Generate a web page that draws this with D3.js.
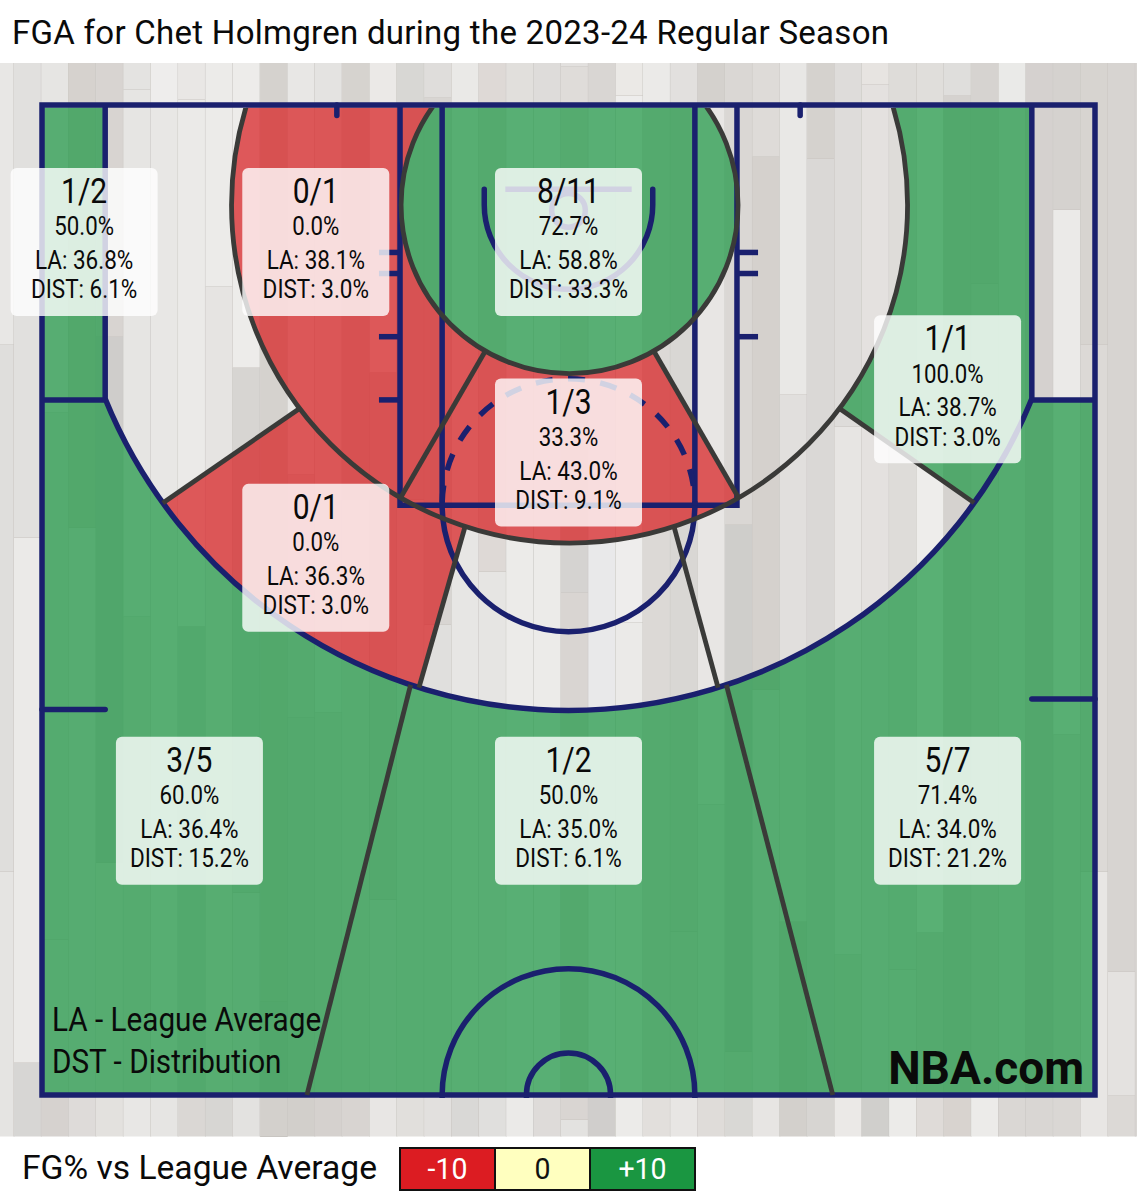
<!DOCTYPE html>
<html><head><meta charset="utf-8">
<style>html,body{margin:0;padding:0;background:#fff}svg{display:block}text{font-family:Roboto,sans-serif}</style>
<script src="https://cdnjs.cloudflare.com/ajax/libs/d3/7.8.5/d3.min.js"></script>
</head><body><div id="chart"></div>
<script>
const titleText = "FGA for Chet Holmgren during the 2023-24 Regular Season";
const noteLines = ["LA - League Average", "DST - Distribution"];
const brandText = "NBA.com";
const legendTitle = "FG% vs League Average";
const legendLabels = ["-10", "0", "+10"];
const legendColors = ["#d7191c", "#ffffbf", "#1a9641"];

// Zone read-outs
const zoneFG   = ["1/2","0/1","8/11","1/1","1/3","0/1","3/5","1/2","5/7"];
const zonePct  = ["50.0%","0.0%","72.7%","100.0%","33.3%","0.0%","60.0%","50.0%","71.4%"];
const zoneLA   = ["36.8%","38.1%","58.8%","38.7%","43.0%","36.3%","36.4%","35.0%","34.0%"];
const zoneDist = ["6.1%","3.0%","33.3%","3.0%","9.1%","3.0%","15.2%","6.1%","21.2%"];
const zoneFeetX = [2,13,25,43,25,13,7,25,43];
const zoneFeetY = [6.5,6.5,6.5,13.5,16.5,21.5,33.5,33.5,33.5];

// Hardwood: one list of tones per plank column, with the pixel row where each tone ends
const plankTones = [
["e8e7e5","dfdedc","e5e4e2"],["e1e0de","ebeae8","d7d6d4"],["e6e5e3","dedddb","e2e0de","d6d2cf"],["d6d2ce","e4e2e0","dedbd9"],
["d8d4d1","cfcdcb","e3e1de"],["e4e3e1","e6e5e3","dfdddb","e8e7e5"],["eeedec","e8e7e5","e6e5e3"],["e9e7e5","ebeae8","d8d6d4","dad7d4"],
["ecebe9","e6e4e2","d7d6d3"],["edecea","d7d5d2","e3e2e0"],["d5d2ce","d3d0cc","d9d8d6"],["e8e7e5","dcdad7","d9d7d3","d2cfcb"],
["e4e3e1","dcdad7","d5d1ce"],["d6d3cf","e0dedb","d8d4d1"],["ebe9e7","d9d7d4","e4e2e0","e8e6e4"],["d8d7d4","e1dfdc"],
["dfdddb","d8d5d2","e0dfdd","e2e0de"],["eae9e7","e7e6e4","d9d8d6"],["ded9d6","e6e5e3","e0dfdd"],["e1dfdc","ecebe9","ebeae8"],
["dedcda","ecebe9","dedbd9"],["e3e1df","dfdcd9","d5d3d1","d9d5d2","e3e2e0"],["d9d6d3","e9e9ea","d0cecc"],["ebe9e6","eeedec","ebeae8","ecebe9"],
["ebeae8","dcd9d6","e2dfdc"],["e2e0de","d9d7d4","dcdad7","e8e6e4"],["d4d1cd","e8e6e4","e2e0de","dfdcd9"],["dad7d4","cfcecb","dcdad7","d9d8d5"],
["dedbd8","d5d1cd","e4e2e0","e7e5e3"],["e8e7e5","e9e8e6","e1dfdd","d3d0cc"],["d5d2ce","dad8d6","d7d5d2"],["dedcda","e7e5e3","dcdad7","ebe9e7"],
["e7e4e1","e4e1df","d0cfcc"],["dedcd9","e2e0dd","ecebe9"],["e0dedb","eeedeb","dcdad7","dfdbd8"],["dfdedc","d5d2cf","d8d3cf"],
["d6d3d0","dcd9d6","ecebe9"],["eaeae8","e2e0de","dad7d4"],["d5d1cf","d9d6d3"],["d5d2cf","ebeae8","e0ddda","dad7d4"],
["d7d4d0","dcd9d6","e8e6e4"],["d7d4d1","e4e2e0","dcd9d6"],["d9d6d3"]];
const plankEnds = [
[345,872],[538,1063],[413,940,1096],[528,1096],
[337,863],[90,617,1096],[105,1096],[100,627,1096],
[287,1096],[368,893],[1002],[475,718,1096],
[713,1096],[500,1096],[373,900,1096],[500],
[98,625,1096],[105,1096],[572,1096],[105,1096],
[105,1096],[67,400,593,1120],[105,1096],[96,623,1096],
[105,1096],[105,932,1096],[105,805,1096],[525,1052,1096],
[157,690,1096],[105,395,922],[159,1096],[427,955,1096],
[85,1096],[970,1096],[105,933,1096],[96,1096],
[284,1096],[105,1096],[1096],[210,735,1096],
[345,872],[972,1096],[]];

// Court (feet)
const courtW = 50, courtH = 47;
const threeR = 23.75, midR = 16.05, paintR = 8;
const rayPaint = 30, rayMidInner = [18, 53], rayMidOuter = [17.4, 54.2], rayDeep = 18.4;

const W = 1137, H = 1200;
const sx = d3.scaleLinear().domain([0, courtW]).range([42, 1095]);
const sy = d3.scaleLinear().domain([0, courtH]).range([105, 1095]);
const k = sx(1) - sx(0);
const floorY = d3.scaleLinear().domain([0, H]).range([0, H]);
const plankX = d3.scaleLinear().domain([1, 2]).range([14, 41.35]);
const navy = "#1a206e", dark = "#3a3a38";
const rad = d => d * Math.PI / 180;

const svg = d3.select("#chart").append("svg").attr("width", W).attr("height", H);
const defs = svg.append("defs");
defs.append("clipPath").attr("id","court").append("rect")
  .attr("x",sx(0)).attr("y",sy(0)+2.5).attr("width",sx(courtW)-sx(0)).attr("height",sy(courtH)-sy(0));
defs.append("clipPath").attr("id","courtInner").append("rect")
  .attr("x",sx(0)).attr("y",sy(0)+3).attr("width",sx(courtW)-sx(0)).attr("height",sy(courtH)-sy(0));

// floor
const FLOOR_TOP = 63, FLOOR_BOTTOM = 1136.5;
const floor = svg.append("g");
plankTones.forEach((tones, c) => {
  const x0 = Math.max(0, plankX(c)), x1 = Math.min(W, plankX(c + 1));
  let y0 = FLOOR_TOP;
  tones.forEach((t, i) => {
    const y1 = i < plankEnds[c].length ? plankEnds[c][i] : FLOOR_BOTTOM;
    floor.append("rect").attr("x", x0).attr("y", floorY(y0)).attr("width", x1 - x0).attr("height", floorY(y1) - floorY(y0))
      .attr("fill", "#" + t);
    if (i < tones.length - 1) floor.append("line").attr("x1", x0).attr("x2", x1).attr("y1", y1).attr("y2", y1)
      .attr("stroke", "#c8c5c1").attr("stroke-width", 1);
    y0 = y1;
  });
  if (c < plankTones.length - 1) floor.append("line").attr("x1", x1).attr("x2", x1).attr("y1", FLOOR_TOP).attr("y2", FLOOR_BOTTOM)
    .attr("stroke", "#c8c5c1").attr("stroke-width", 1);
});

// zone fills
const zc = [sx(25.05), sy(4.75)], rc = [sx(25), sy(5)];
const r3 = threeR * k, rM = midR * k, rP = paintR * k;
const cornerL = 180 - Math.acos(22 / threeR) * 180 / Math.PI, cornerR = Math.acos(22 / threeR) * 180 / Math.PI;
const bad = legendColors[0], good = legendColors[2];
const fills = [];
{
  let p = d3.path(); p.arc(zc[0], zc[1], rP, 0, 2 * Math.PI); fills.push([p, good]);
  p = d3.path(); p.arc(zc[0], zc[1], rP, rad(90 - rayPaint), rad(90 + rayPaint)); p.arc(zc[0], zc[1], rM, rad(90 + rayPaint), rad(90 - rayPaint), true); p.closePath(); fills.push([p, bad]);
  p = d3.path(); p.arc(zc[0], zc[1], rP, rad(90 + rayPaint), rad(270)); p.arc(zc[0], zc[1], rM, rad(270), rad(90 + rayPaint), true); p.closePath(); fills.push([p, bad]);
  p = d3.path(); p.arc(rc[0], rc[1], r3, rad(90 + rayMidOuter[0]), rad(90 + rayMidOuter[1])); p.arc(zc[0], zc[1], rM, rad(90 + rayMidInner[1]), rad(90 + rayMidInner[0]), true); p.closePath(); fills.push([p, bad]);
  // right upper mid-range
  const a0 = -Math.asin((zc[1] - sy(0)) / rM) * 180 / Math.PI;
  p = d3.path(); p.moveTo(sx(47), sy(0)); p.lineTo(sx(47), sy(14));
  p.arc(rc[0], rc[1], r3, rad(cornerR), rad(90 - rayMidOuter[1]));
  p.arc(zc[0], zc[1], rM, rad(90 - rayMidInner[1]), rad(a0), true); p.closePath(); fills.push([p, good]);
  // corners and above the break
  p = d3.path(); p.rect(sx(0), sy(0), sx(3) - sx(0), sy(14) - sy(0)); fills.push([p, good]);
  p = d3.path(); p.moveTo(sx(0), sy(14)); p.lineTo(sx(3), sy(14));
  p.arc(rc[0], rc[1], r3, rad(cornerL), rad(90 + rayDeep), true);
  p.lineTo(sx(12.58), sy(courtH)); p.lineTo(sx(0), sy(courtH)); p.closePath(); fills.push([p, good]);
  p = d3.path(); p.arc(rc[0], rc[1], r3, rad(90 + rayDeep), rad(90 - rayDeep), true);
  p.lineTo(sx(37.55), sy(courtH)); p.lineTo(sx(12.58), sy(courtH)); p.closePath(); fills.push([p, good]);
  p = d3.path(); p.moveTo(sx(courtW), sy(14)); p.lineTo(sx(47), sy(14));
  p.arc(rc[0], rc[1], r3, rad(cornerR), rad(90 - rayDeep));
  p.lineTo(sx(37.55), sy(courtH)); p.lineTo(sx(courtW), sy(courtH)); p.closePath(); fills.push([p, good]);
}
svg.append("g").attr("clip-path", "url(#court)").selectAll("path").data(fills).join("path")
  .attr("d", d => d[0].toString()).attr("fill", d => d[1]).attr("fill-opacity", 0.7);

// court lines
const lines = svg.append("g").attr("fill", "none").attr("stroke", navy).attr("stroke-width", 5.5);
const seg = (x1, y1, x2, y2, cap) => lines.append("line").attr("x1", sx(x1)).attr("y1", sy(y1)).attr("x2", sx(x2)).attr("y2", sy(y2)).attr("stroke-linecap", cap || "butt");
const courtClip = lines.append("g").attr("clip-path", "url(#courtInner)");
// three point line
{
  const p = d3.path(); p.moveTo(sx(3), sy(0)); p.lineTo(sx(3), sy(14));
  p.arc(rc[0], rc[1], r3, rad(cornerL), rad(cornerR), true); p.lineTo(sx(47), sy(0));
  lines.append("path").attr("d", p.toString());
}
seg(0, 14, 3, 14); seg(47, 14, 50, 14);
seg(14, 0, 14, 0.5, "round"); seg(36, 0, 36, 0.5, "round");
seg(0, 28.7, 3, 28.7, "round"); seg(47, 28.2, 50, 28.2, "round");
// lane
lines.append("path").attr("d", `M${sx(17)},${sy(0)}V${sy(19)}H${sx(33)}V${sy(0)}`);
seg(19, 0, 19, 19); seg(31, 0, 31, 19);
[7, 8, 11, 14].forEach(f => seg(16, f, 17, f));
[7, 8, 11].forEach(f => seg(33, f, 34, f));
// free throw circle
{
  const lower = d3.path(); lower.arc(sx(25), sy(19), 6 * k, 0, Math.PI);
  lines.append("path").attr("d", lower.toString());
  const upper = d3.path(); upper.arc(sx(25), sy(19), 6 * k, Math.PI, 2 * Math.PI);
  lines.append("path").attr("d", upper.toString()).attr("stroke-dasharray", "17 15.5").attr("stroke-dashoffset", -3);
}
// restricted area, backboard, rim
{
  const p = d3.path(); p.moveTo(sx(21), sy(4)); p.lineTo(sx(21), sy(4.75));
  p.arc(sx(25), sy(4.75), 4 * k, Math.PI, 0, true); p.lineTo(sx(29), sy(4));
  lines.append("path").attr("d", p.toString()).attr("stroke-linecap", "round");
  seg(22, 4, 28, 4);
  lines.append("circle").attr("cx", sx(25)).attr("cy", sy(5)).attr("r", 0.8 * k);
}
// half-court circles
courtClip.append("circle").attr("cx", sx(25)).attr("cy", sy(courtH)).attr("r", 6 * k);
courtClip.append("circle").attr("cx", sx(25)).attr("cy", sy(courtH)).attr("r", 2 * k);
lines.append("rect").attr("x", sx(0)).attr("y", sy(0)).attr("width", sx(courtW) - sx(0)).attr("height", sy(courtH) - sy(0));

// zone boundaries
const zoneLines = svg.append("g").attr("clip-path", "url(#courtInner)").attr("fill", "none").attr("stroke", dark).attr("stroke-width", 4.8);
zoneLines.append("circle").attr("cx", zc[0]).attr("cy", zc[1]).attr("r", rP);
zoneLines.append("circle").attr("cx", zc[0]).attr("cy", zc[1]).attr("r", rM);
const polar = (c, r, a) => [c[0] + r * Math.cos(rad(a)), c[1] + r * Math.sin(rad(a))];
const ray = (a, b) => zoneLines.append("line").attr("x1", a[0]).attr("y1", a[1]).attr("x2", b[0]).attr("y2", b[1]);
[-1, 1].forEach(s => {
  ray(polar(zc, rP, 90 + s * rayPaint), polar(zc, rM, 90 + s * rayPaint));
  ray(polar(zc, rM, 90 + s * rayMidInner[0]), polar(rc, r3, 90 + s * rayMidOuter[0]));
  ray(polar(zc, rM, 90 + s * rayMidInner[1]), polar(rc, r3, 90 + s * rayMidOuter[1]));
});
ray(polar(rc, r3, 90 + rayDeep), [sx(12.58), sy(courtH)]);
ray(polar(rc, r3, 90 - rayDeep), [sx(37.55), sy(courtH)]);

// text helper: squeezed Roboto
function squeezed(g, str, x, y, size, sq, opts = {}) {
  return g.append("text").attr("transform", `translate(${x},${y}) scale(${sq},1)`)
    .attr("text-anchor", opts.anchor || "middle").attr("font-size", size)
    .attr("font-weight", opts.weight || 400).attr("fill", opts.fill || "#0a0a0a").text(str);
}

// zone labels
const BOX_W = 147, BOX_H = 148;
const labels = svg.append("g");
zoneFG.forEach((fg, i) => {
  const cx = sx(zoneFeetX[i]), cy = sy(zoneFeetY[i]), top = cy - BOX_H / 2;
  labels.append("rect").attr("x", cx - BOX_W / 2).attr("y", top).attr("width", BOX_W).attr("height", BOX_H)
    .attr("rx", 6).attr("fill", "#fff").attr("fill-opacity", 0.8);
  squeezed(labels, fg, cx, top + 35, 34.5, 0.87);
  squeezed(labels, zonePct[i], cx, top + 67.5, 25, 0.89);
  squeezed(labels, "LA: " + zoneLA[i], cx, top + 101, 25, 0.9);
  squeezed(labels, "DIST: " + zoneDist[i], cx, top + 130.5, 25, 0.9);
});

// header, notes, legend
squeezed(svg, titleText, 12, 43.5, 33, 1, { anchor: "start" }).attr("textLength", 877).attr("lengthAdjust", "spacing");
squeezed(svg, noteLines[0], 52, 1031, 33, 0.9, { anchor: "start" });
squeezed(svg, noteLines[1], 52, 1073, 33, 0.9, { anchor: "start" });
squeezed(svg, brandText, 1084, 1084, 46, 1, { anchor: "end", weight: 700 });
squeezed(svg, legendTitle, 22, 1179, 34, 1, { anchor: "start" }).attr("textLength", 355).attr("lengthAdjust", "spacingAndGlyphs");

const legX = d3.scaleOrdinal().domain(legendLabels).range([400, 495, 590]);
const legW = d3.scaleOrdinal().domain(legendLabels).range([95, 95, 105]);
legendLabels.forEach((l, i) => {
  svg.append("rect").attr("x", legX(l)).attr("y", 1148).attr("width", legW(l)).attr("height", 42)
    .attr("fill", i === 0 ? "#dc1c22" : i === 1 ? "#ffffbf" : "#1a9641").attr("stroke", "#111").attr("stroke-width", 2);
  squeezed(svg, l, legX(l) + legW(l) / 2, 1179, 30, 0.95, { fill: i === 1 ? "#111" : "#fff" });
});
</script></body></html>
